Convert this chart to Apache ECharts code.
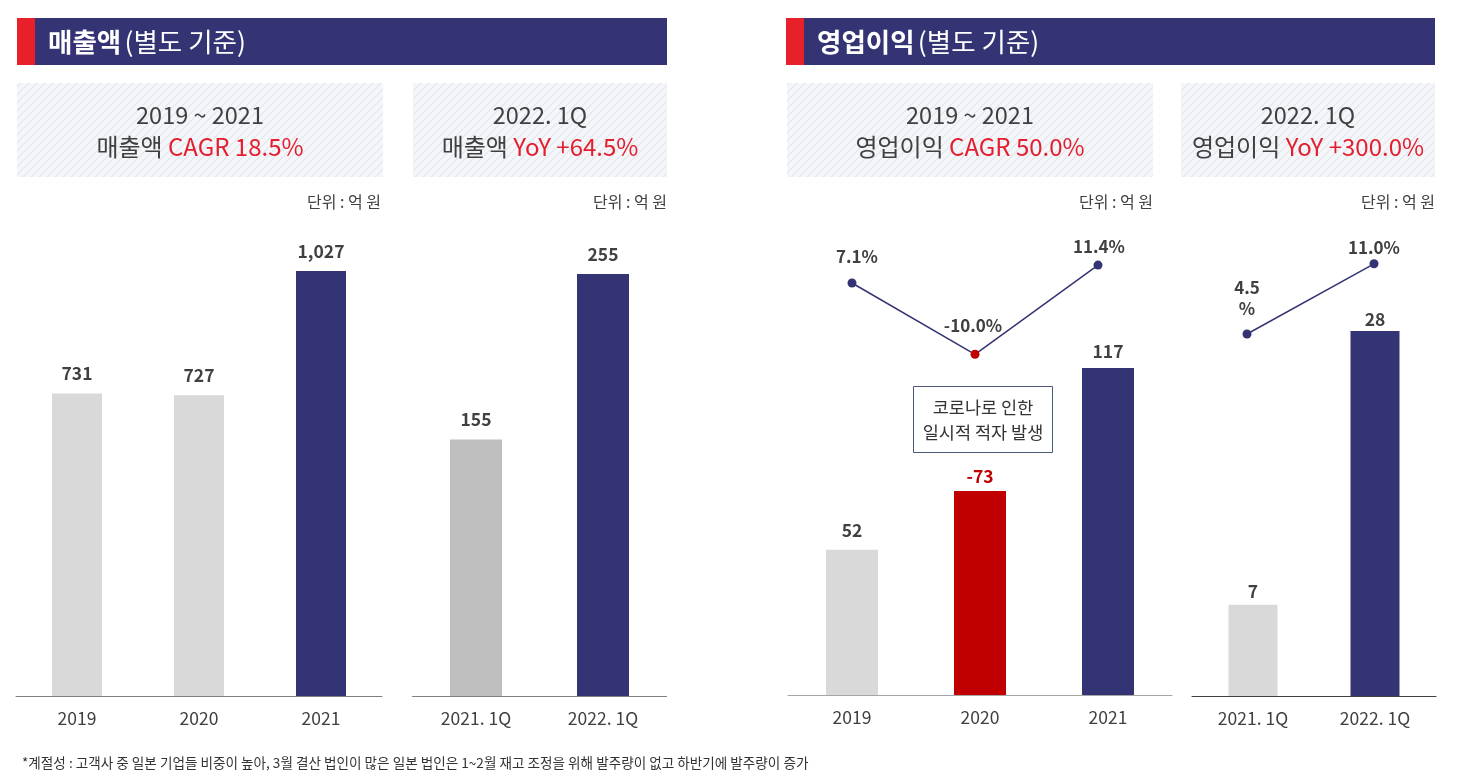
<!DOCTYPE html>
<html><head><meta charset="utf-8">
<script src="https://cdn.jsdelivr.net/npm/echarts@6/dist/echarts.min.js"></script>
<style>html,body{margin:0;padding:0;background:#fff}#c{width:1459px;height:777px}</style>
</head><body><div id="c"></div>
<script>
// ---- data ----
const salesYears = ['2019', '2020', '2021'];
const salesValues = [731, 727, 1027];
const salesQuarters = ['2021. 1Q', '2022. 1Q'];
const salesQValues = [155, 255];
const opYears = ['2019', '2020', '2021'];
const opValues = [52, -73, 117];
const opMargins = [7.1, -10.0, 11.4];
const opQuarters = ['2021. 1Q', '2022. 1Q'];
const opQValues = [7, 28];
const opQMargins = [4.5, 11.0];

// ---- styles ----
const FONT = '"Noto Sans CJK KR", "Noto Sans", sans-serif';
const NAVY = '#343474';
const LGRAY = '#d9d9d9';
const MGRAY = '#bfbfbf';
const RBAR = '#c00000';
const RTXT = '#e31e2d';
const TXT = '#404040';

function hatch() {
  const c = document.createElement('canvas');
  c.width = 8; c.height = 8;
  const x = c.getContext('2d');
  x.fillStyle = '#f4f6f9'; x.fillRect(0, 0, 8, 8);
  x.strokeStyle = '#e2e6ed'; x.lineWidth = 1.2;
  x.beginPath();
  x.moveTo(0, 8); x.lineTo(8, 0);
  x.moveTo(-4, 4); x.lineTo(4, -4);
  x.moveTo(4, 12); x.lineTo(12, 4);
  x.stroke();
  return c;
}
const pat = { image: hatch(), repeat: 'repeat' };

const chart = echarts.init(document.getElementById('c'), null, { renderer: 'canvas' });

function header(x, w, bold, rest) {
  return [
    { type: 'rect', shape: { x: x, y: 18, width: w, height: 47 }, style: { fill: NAVY } },
    { type: 'rect', shape: { x: x, y: 18, width: 18, height: 47 }, style: { fill: '#e8202a' } },
    { type: 'text', x: x + 31, y: 42, style: {
        text: '{b|' + bold + '} {n|' + rest + '}', verticalAlign: 'middle', fill: '#fff',
        rich: { b: { fontFamily: FONT, fontSize: 26.5, fontWeight: 'bold', fill: '#fff' },
                n: { fontFamily: FONT, fontSize: 26.5, fontWeight: 'normal', fill: '#fff' } } } }
  ];
}
function box(x, w, line1, pre, red) {
  return [
    { type: 'rect', shape: { x: x, y: 83, width: w, height: 94 }, style: { fill: pat } },
    { type: 'text', x: x + w / 2, y: 115, style: { text: line1, align: 'center', verticalAlign: 'middle',
        fontFamily: FONT, fontSize: 23.5, fill: TXT } },
    { type: 'text', x: x + w / 2, y: 147, style: {
        text: '{a|' + pre + ' }{r|' + red + '}', align: 'center', verticalAlign: 'middle',
        rich: { a: { fontFamily: FONT, fontSize: 24, fill: TXT }, r: { fontFamily: FONT, fontSize: 24, fill: RTXT } } } }
  ];
}
function unit(xr) {
  return { type: 'text', x: xr, y: 202, style: { text: '단위 : 억 원', align: 'right', verticalAlign: 'middle',
    fontFamily: FONT, fontSize: 16, fill: TXT } };
}

const graphic = [].concat(
  header(17, 650, '매출액', '(별도 기준)'),
  header(786, 649, '영업이익', '(별도 기준)'),
  box(17, 366, '2019 ~ 2021', '매출액', 'CAGR 18.5%'),
  box(413, 254, '2022. 1Q', '매출액', 'YoY +64.5%'),
  box(787, 366, '2019 ~ 2021', '영업이익', 'CAGR 50.0%'),
  box(1181, 254, '2022. 1Q', '영업이익', 'YoY +300.0%'),
  [unit(381), unit(667), unit(1153), unit(1435),
   { type: 'rect', shape: { x: 913.5, y: 386.5, width: 139, height: 66 }, style: { fill: '#fff', stroke: '#4a5a78', lineWidth: 1 } },
   { type: 'text', x: 983, y: 420, style: { text: '코로나로 인한\n일시적 적자 발생', align: 'center', verticalAlign: 'middle',
      lineHeight: 25, fontFamily: FONT, fontSize: 17.5, fill: '#333' } },
   { type: 'text', x: 22, y: 763, style: { text: '*계절성 : 고객사 중 일본 기업들 비중이 높아, 3월 결산 법인이 많은 일본 법인은 1~2월 재고 조정을 위해 발주량이 없고 하반기에 발주량이 증가',
      verticalAlign: 'middle', fontFamily: FONT, fontSize: 13.6, fill: '#333' } }]
);

const grids = [
  { left: 16, width: 366, top: 199.4, height: 496.6 },   // 0 sales yearly
  { left: 412.5, width: 254, top: 199.5, height: 496.5 }, // 1 sales quarterly
  { left: 788, width: 384, top: 192, height: 503 },       // 2 op bars yearly
  { left: 790.5, width: 369, top: 145.8, height: 250.2 }, // 3 op margin yearly
  { left: 1192, width: 244, top: 239.6, height: 456.4 },  // 4 op bars quarterly
  { left: 1183.5, width: 254, top: 166.6, height: 216 }   // 5 op margin quarterly
];

function xCat(gi, data, show, lineColor) {
  return { type: 'category', gridIndex: gi, data: data,
    axisLine: { show: show, lineStyle: { color: lineColor || '#7f7f7f', width: 1 } },
    axisTick: { show: false },
    axisLabel: { show: show, margin: 14, fontFamily: FONT, fontSize: 17.5, color: TXT } };
}
function yVal(gi, min, max) {
  return { type: 'value', gridIndex: gi, min: min, max: max, show: false, splitLine: { show: false } };
}

const barLabel = { show: true, position: 'top', fontFamily: FONT, fontSize: 17.5, fontWeight: 'bold', color: TXT };
const lineLabel = { show: true, position: 'top', fontFamily: FONT, fontSize: 17, fontWeight: 'bold', color: TXT };
function fmt(v) { return v.toLocaleString('en-US'); }

const option = {
  animation: false,
  backgroundColor: '#fff',
  graphic: graphic,
  grid: grids,
  xAxis: [
    xCat(0, salesYears, true),
    xCat(1, salesQuarters, true),
    xCat(2, opYears, true, '#a6a6a6'),
    xCat(3, opYears, false),
    xCat(4, opQuarters, true, '#404040'),
    xCat(5, opQuarters, false)
  ],
  yAxis: [
    yVal(0, 0, 1200),
    yVal(1, 0, 300),
    yVal(2, 0, 180),
    yVal(3, -20, 40),
    yVal(4, 0, 35),
    yVal(5, 0, 20)
  ],
  series: [
    { type: 'bar', xAxisIndex: 0, yAxisIndex: 0, barWidth: 50,
      data: salesValues.map((v, i) => ({ value: v, itemStyle: { color: i === 2 ? NAVY : LGRAY } })),
      label: Object.assign({}, barLabel, { distance: 11, formatter: p => fmt(p.value) }) },
    { type: 'bar', xAxisIndex: 1, yAxisIndex: 1, barWidth: 52,
      data: salesQValues.map((v, i) => ({ value: v, itemStyle: { color: i === 1 ? NAVY : MGRAY } })),
      label: Object.assign({}, barLabel, { distance: 11, formatter: p => fmt(p.value) }) },
    { type: 'bar', xAxisIndex: 2, yAxisIndex: 2, barWidth: 52,
      data: opValues.map((v, i) => ({ value: Math.abs(v),
        itemStyle: { color: i === 2 ? NAVY : (v < 0 ? RBAR : LGRAY) },
        label: { color: v < 0 ? RBAR : TXT, distance: [11, 6, 8][i] } })),
      label: Object.assign({}, barLabel, { formatter: p => String(opValues[p.dataIndex]) }) },
    { type: 'line', xAxisIndex: 3, yAxisIndex: 3, symbol: 'circle', symbolSize: 9,
      lineStyle: { color: NAVY, width: 1.5 }, itemStyle: { color: NAVY },
      data: opMargins.map((v, i) => ({ value: v,
        itemStyle: { color: v < 0 ? RBAR : NAVY },
        label: { distance: [13, 16, 6][i], offset: [[5, 0], [-2, 0], [1, 0]][i] } })),
      label: Object.assign({}, lineLabel, { formatter: p => p.value.toFixed(1) + '%' }) },
    { type: 'bar', xAxisIndex: 4, yAxisIndex: 4, barWidth: 49,
      data: opQValues.map((v, i) => ({ value: v, itemStyle: { color: i === 1 ? NAVY : LGRAY },
        label: { distance: [5, 3][i] } })),
      label: Object.assign({}, barLabel, { formatter: p => fmt(p.value) }) },
    { type: 'line', xAxisIndex: 5, yAxisIndex: 5, symbol: 'circle', symbolSize: 9,
      lineStyle: { color: NAVY, width: 1.5 }, itemStyle: { color: NAVY },
      data: opQMargins.map((v, i) => ({ value: v,
        label: i === 0 ? { distance: 10, lineHeight: 21, formatter: p => p.value.toFixed(1) + '\n%' } : { distance: 3 } })),
      label: Object.assign({}, lineLabel, { formatter: p => p.value.toFixed(1) + '%' }) }
  ]
};
chart.setOption(option);
</script>
</body></html>
